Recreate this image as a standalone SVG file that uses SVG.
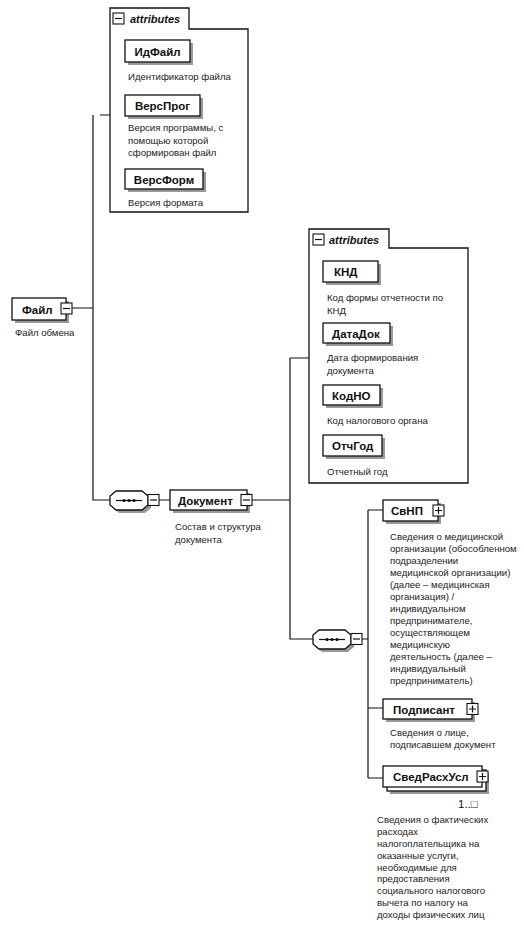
<svg xmlns="http://www.w3.org/2000/svg" width="524" height="935" viewBox="0 0 524 935">
<defs>
<style>
.bg{fill:#fff}
.ln{fill:none;stroke:#111;stroke-width:1.2}
.box{fill:#fff;stroke:#111;stroke-width:1.3}
.sh{fill:#999}
.nm{font-family:"Liberation Sans",Arial,sans-serif;font-size:11.5px;font-weight:bold;fill:#111}
.ds{font-family:"Liberation Sans",Arial,sans-serif;font-size:9.6px;fill:#222}
.at{font-family:"Liberation Sans",Arial,sans-serif;font-size:11px;font-weight:bold;font-style:italic;fill:#111}
.ic{fill:#fff;stroke:#111;stroke-width:1.1}
.mul{font-family:"Liberation Sans",Arial,sans-serif;font-size:11.5px;fill:#111}
</style>
<g id="minus"><rect class="ic" x="0" y="0" width="11" height="11"/><path class="ln" d="M2,5.5H9"/></g>
<g id="plus"><rect class="ic" x="0" y="0" width="11" height="11"/><path class="ln" d="M2,5.5H9M5.5,2V9"/></g>
<g id="seq">
<polygon class="sh" points="9,3 35,3 41,8 41,17 35,22 9,22 3,17 3,8"/>
<polygon class="box" points="6,0 32,0 38,5 38,14 32,19 6,19 0,14 0,5"/>
<path class="ln" d="M6,9.5H32"/>
<circle cx="14" cy="9.5" r="1.6" fill="#111"/><circle cx="19" cy="9.5" r="1.6" fill="#111"/><circle cx="24" cy="9.5" r="1.6" fill="#111"/>
</g>
</defs>
<rect class="bg" width="524" height="935"/>

<g id="connectors">
<path class="ln" d="M72,308H93M93,115V500H110M100,115H110"/>
<path class="ln" d="M159,500H170M252,500H290M290,358V639H313M290,358H309"/>
<path class="ln" d="M361,639H368M368,510V778M368,510H383M368,708H383M368,778H383"/>
</g>

<g id="attrs1">
<path class="box" d="M110,212V8H189V29H248V212Z"/>
<use href="#minus" x="113" y="13"/>
<text class="at" x="130" y="23">attributes</text>
</g>
<g id="IdFile">
<rect class="sh" x="128" y="43" width="65" height="22"/>
<rect class="box" x="125" y="40" width="65" height="22"/>
<text class="nm" x="157.5" y="55.5" text-anchor="middle">ИдФайл</text>
<text class="ds" x="128" y="80">Идентификатор файла</text>
</g>
<g id="VersProg">
<rect class="sh" x="128" y="98" width="75" height="21"/>
<rect class="box" x="125" y="95" width="75" height="21"/>
<text class="nm" x="162.5" y="110" text-anchor="middle">ВерсПрог</text>
<text class="ds" x="128" y="131">Версия программы, с</text>
<text class="ds" x="128" y="143.5">помощью которой</text>
<text class="ds" x="128" y="156">сформирован файл</text>
</g>
<g id="VersForm">
<rect class="sh" x="128" y="172" width="78" height="20"/>
<rect class="box" x="125" y="169" width="78" height="20"/>
<text class="nm" x="164" y="183.5" text-anchor="middle">ВерсФорм</text>
<text class="ds" x="128" y="206">Версия формата</text>
</g>

<g id="File">
<rect class="sh" x="15" y="301" width="54" height="22"/>
<rect class="box" x="12" y="298" width="54" height="22"/>
<text class="nm" x="22" y="313.5">Файл</text>
<use href="#minus" x="61" y="303"/>
<text class="ds" x="15" y="336">Файл обмена</text>
</g>

<g id="seq1"><use href="#seq" x="110" y="491"/><use href="#minus" x="148" y="494.5"/></g>

<g id="Document">
<rect class="sh" x="173" y="493" width="77" height="20"/>
<rect class="box" x="170" y="490" width="77" height="20"/>
<text class="nm" x="178" y="504.5">Документ</text>
<use href="#minus" x="241" y="494.5"/>
<text class="ds" x="175" y="530">Состав и структура</text>
<text class="ds" x="175" y="543">документа</text>
</g>

<g id="attrs2">
<path class="box" d="M309,483V229H389V248H468V483Z"/>
<use href="#minus" x="313" y="234"/>
<text class="at" x="329" y="244">attributes</text>
</g>
<g id="KND">
<rect class="sh" x="326" y="264" width="55" height="21"/>
<rect class="box" x="323" y="261" width="55" height="21"/>
<text class="nm" x="334" y="276">КНД</text>
<text class="ds" x="327" y="301">Код формы отчетности по</text>
<text class="ds" x="327" y="313.5">КНД</text>
</g>
<g id="DataDok">
<rect class="sh" x="326" y="326" width="67" height="20"/>
<rect class="box" x="323" y="323" width="67" height="20"/>
<text class="nm" x="332" y="337.5">ДатаДок</text>
<text class="ds" x="327" y="361">Дата формирования</text>
<text class="ds" x="327" y="373.5">документа</text>
</g>
<g id="KodNO">
<rect class="sh" x="326" y="388" width="57" height="20"/>
<rect class="box" x="323" y="385" width="57" height="20"/>
<text class="nm" x="332" y="399.5">КодНО</text>
<text class="ds" x="327" y="423.5">Код налогового органа</text>
</g>
<g id="OtchGod">
<rect class="sh" x="326" y="438" width="59" height="21"/>
<rect class="box" x="323" y="435" width="59" height="21"/>
<text class="nm" x="332" y="450">ОтчГод</text>
<text class="ds" x="327" y="475">Отчетный год</text>
</g>

<g id="seq2"><use href="#seq" x="313" y="630"/><use href="#minus" x="351" y="633.5"/></g>

<g id="SvNP">
<rect class="sh" x="386" y="503" width="55" height="21"/>
<rect class="box" x="383" y="500" width="55" height="21"/>
<text class="nm" x="391" y="515">СвНП</text>
<use href="#plus" x="433" y="505"/>
<text class="ds" x="390" y="540">Сведения о медицинской</text>
<text class="ds" x="390" y="552">организации (обособленном</text>
<text class="ds" x="390" y="564">подразделении</text>
<text class="ds" x="390" y="576">медицинской организации)</text>
<text class="ds" x="390" y="588">(далее – медицинская</text>
<text class="ds" x="390" y="600">организация) /</text>
<text class="ds" x="390" y="612">индивидуальном</text>
<text class="ds" x="390" y="624">предпринимателе,</text>
<text class="ds" x="390" y="636">осуществляющем</text>
<text class="ds" x="390" y="648">медицинскую</text>
<text class="ds" x="390" y="660">деятельность (далее –</text>
<text class="ds" x="390" y="672">индивидуальный</text>
<text class="ds" x="390" y="684">предприниматель)</text>
</g>

<g id="Podpisant">
<rect class="sh" x="386" y="702" width="89" height="20"/>
<rect class="box" x="383" y="699" width="89" height="20"/>
<text class="nm" x="393" y="713.5">Подписант</text>
<use href="#plus" x="467" y="703.5"/>
<text class="ds" x="390" y="736">Сведения о лице,</text>
<text class="ds" x="390" y="748">подписавшем документ</text>
</g>

<g id="SvedRashUsl">
<rect class="sh" x="390" y="773" width="99" height="21"/>
<rect class="box" x="387" y="770" width="99" height="21"/>
<rect class="box" x="383" y="766" width="99" height="21"/>
<text class="nm" x="393" y="781">СведРасхУсл</text>
<use href="#plus" x="477" y="771"/>
<text class="mul" x="458" y="808">1..□</text>
<text class="ds" x="377" y="823">Сведения о фактических</text>
<text class="ds" x="377" y="835">расходах</text>
<text class="ds" x="377" y="847">налогоплательщика на</text>
<text class="ds" x="377" y="859">оказанные услуги,</text>
<text class="ds" x="377" y="870.5">необходимые для</text>
<text class="ds" x="377" y="882">предоставления</text>
<text class="ds" x="377" y="894">социального налогового</text>
<text class="ds" x="377" y="906">вычета по налогу на</text>
<text class="ds" x="377" y="918">доходы физических лиц</text>
</g>
</svg>
